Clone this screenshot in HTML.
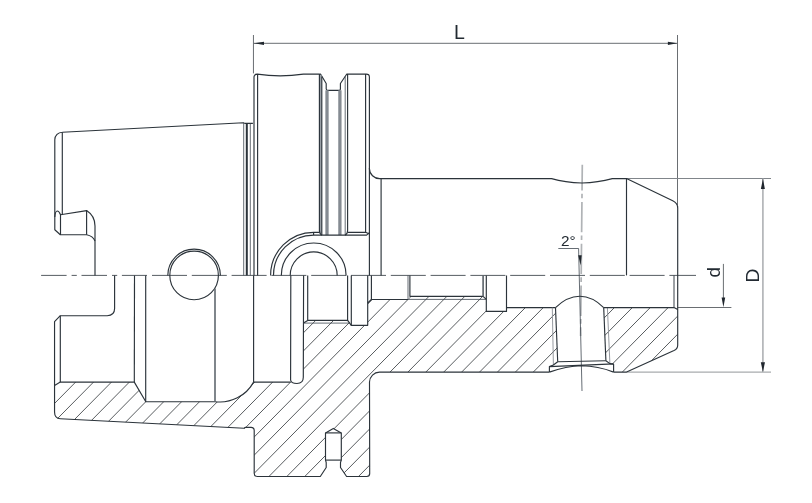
<!DOCTYPE html>
<html lang="en">
<head>
<meta charset="utf-8">
<title>Tool holder drawing</title>
<style>
html,body{margin:0;padding:0;background:#fff;}
body{width:812px;height:503px;overflow:hidden;}
svg{display:block;will-change:transform;}
path{fill:none;}
.m{stroke:#2b333a;stroke-width:1.15;stroke-linejoin:round;stroke-linecap:butt;}
.k{stroke:#2b333a;stroke-width:2;}
.k2{stroke:#60676e;stroke-width:1.6;}
.k3{stroke:#5a6168;stroke-width:1.6;}
.t{stroke:#3f4850;stroke-width:0.8;}
.t3{stroke:#3a424a;stroke-width:1;}
.t2{stroke:#8a8f95;stroke-width:0.9;}
.g{stroke:#858b92;stroke-width:3.3;}
.gl{stroke:#9aa0a6;stroke-width:2;}
.h{stroke:#3a3e42;stroke-width:0.85;}
.c{stroke:#2b333a;stroke-width:0.8;}
.cv{stroke:#b0b3b6;stroke-width:1.7;}
.d{stroke:#6a6e72;stroke-width:1;}
.e{stroke:#80858a;stroke-width:1;}
.e2{stroke:#a8abae;stroke-width:1.2;}
.dl{stroke:#aeb1b4;stroke-width:1.6;}
.a{fill:#20272e;stroke:none;}
text{font-family:"Liberation Sans",sans-serif;fill:#222a32;}
</style>
</head>
<body>
<svg width="812" height="503" viewBox="0 0 812 503">
<defs><clipPath id="hc"><path d="M54.55,385.4 L60.3,382.1 L134.3,382.1 L145.8,401.7 L215.1,401.7 A38.4,38.4 0 0 0 253.6,382.1 L290.6,382.1 Q291,383.5 297,383.5 Q303.3,383.5 303.3,377.3 L303.5,323.1 L307.7,320.4 L347.6,320.4 L351.3,325.3 L367.7,325.3 L367.7,303 L371.4,299.5 L408.2,299.5 L409.9,296.3 L483.1,296.3 L486.3,299.4 L486.3,311.4 L506.5,311.4 L506.5,307.6 L555.5,307.6 L557.7,361.8 L553.4,365 L549.4,366.6 L549.4,372.1 L379.5,372.1 A10.2,10.2 0 0 0 369.5,382.1 L369.7,473.5 Q369.7,476.5 366.7,476.5 L346.6,476.5 L341.3,467.5 L341.3,432.9 L333.3,428.4 L325.5,432.9 L325.5,467.5 L320.3,476.5 L257.3,476.5 Q254.2,476.5 254.2,473.3 L254.2,430.5 Q254.2,427.3 251,427.3 L245.3,427.3 L244.1,428.3 L60.3,418.7 Q54.55,418.4 54.55,412 Z"/></clipPath><clipPath id="hc2"><path d="M603.7,307.6 L674,307.6 L677.7,309.6 L677.7,345.2 Q677.7,348.8 674,350.6 L626.6,372.1 L613.6,372.1 L613.6,364.2 L609.9,363.6 L605.9,360.8 Z"/></clipPath></defs>
<rect width="812" height="503" fill="#ffffff"/>
<g clip-path="url(#hc)"><path class="h" d="M77.07,290L-110.65,480M94.98,290L-92.74,480M112.89,290L-74.83,480M130.80,290L-56.92,480M148.71,290L-39.01,480M166.62,290L-21.10,480M184.53,290L-3.19,480M202.44,290L14.72,480M220.35,290L32.63,480M238.26,290L50.54,480M256.17,290L68.45,480M274.08,290L86.36,480M291.99,290L104.27,480M309.90,290L122.18,480M327.81,290L140.09,480M345.72,290L158.00,480M363.63,290L175.91,480M381.54,290L193.82,480M399.45,290L211.73,480M417.36,290L229.64,480M435.27,290L247.55,480M453.18,290L265.46,480M471.09,290L283.37,480M489.00,290L301.28,480M506.91,290L319.19,480M524.82,290L337.10,480M542.73,290L355.01,480M560.64,290L372.92,480M578.55,290L390.83,480M596.46,290L408.74,480M614.37,290L426.65,480M632.28,290L444.56,480M650.19,290L462.47,480M668.10,290L480.38,480M686.01,290L498.29,480"/></g><g clip-path="url(#hc2)"><path class="h" d="M524.32,290L336.60,480M542.23,290L354.51,480M560.14,290L372.42,480M578.05,290L390.33,480M595.96,290L408.24,480M613.87,290L426.15,480M631.78,290L444.06,480M649.69,290L461.97,480M667.60,290L479.88,480M685.51,290L497.79,480M703.42,290L515.70,480M721.33,290L533.61,480M739.24,290L551.52,480M757.15,290L569.43,480M775.06,290L587.34,480M792.97,290L605.25,480M810.88,290L623.16,480M828.79,290L641.07,480M846.70,290L658.98,480M864.61,290L676.89,480"/></g>
<path class="c" d="M41.1,275.4L147,275.4" stroke-dasharray="25.5,5,5.2,4.7"/><path class="c" d="M152,275.4L696,275.4" stroke-dasharray="35,4.8"/><path class="cv" d="M582.3,164.8L580.6,336" stroke-dasharray="30.4,3.2,4.6,3.6" stroke-dashoffset="4.7"/><path class="t" d="M578.6,248.5L582,391"/>
<path class="d" d="M253.45,35L253.45,73.4"/><path class="d" d="M677.5,35L677.5,205"/><path class="d" d="M253.5,43.3L677.4,43.3"/><path class="a" d="M253.6,43.3L264,41.7L264,44.9Z"/><path class="a" d="M677.3,43.3L667.9,41.7L667.9,44.9Z"/><path class="e" d="M626.5,178.5L771,178.5"/><path class="e2" d="M626.6,372.1L771,372.1"/><path class="dl" d="M762.9,178.5L762.9,371.8"/><path class="a" d="M762.9,178.6L760.9,189L764.9,189Z"/><path class="a" d="M762.9,371.9L760.8,362.2L765,362.2Z"/><path class="d" d="M677.7,307.5L731.4,307.5"/><path class="d" d="M723.4,263.9L723.4,300"/><path class="a" d="M723.4,307.3L721.6,297.6L725.2,297.6Z"/><path class="t" d="M558.3,248.5L578.6,248.5"/><path class="a" d="M580.6,265.5L578.2,255.3L581.7,255.3Z"/>
<path class="m" d="M60.3,234.7 L54.8,229.8 L54.8,139.8 A7.6,7.6 0 0 1 62.3,132.2 L243.3,122.7 Q244.5,123.3 245.5,123.3 L252.9,123.3"/><path class="m" d="M62.3,132.2L62.3,214.6"/><path class="m" d="M54.8,217 Q55.2,211 57.3,211 Q59,211 60.5,214.8 L86.6,210.6 Q95,216 95,226 L95,275.4"/><path class="m" d="M60.5,214.8 L60.5,234.7 L86.6,234.7 Q93,236 95,241"/><path class="m" d="M86.6,210.6L86.6,234.7"/><path class="t" d="M243.7,123L243.7,275.4"/><path class="k" d="M246.8,123.3L246.8,275.4"/><path class="t" d="M250.3,123.3L250.3,275.4"/><path class="m" d="M257.6,74.6L257.6,275.4"/><path class="m" d="M254,275.4 L254,77.2 Q254,74.1 257.3,74.1 Q280,77.6 303.4,74.1 L319.4,74.1"/><path class="m" d="M319.4,74.1 L320.5,74 L326.2,83.5 L326.2,89 Q326.3,90.3 327.6,90.3 L339.3,90.3 Q340.4,90.3 340.4,89 L340.4,83.5 L346.8,74 L347.6,74.1 L366.2,74.1 Q369.4,74.1 369.4,77 L369.4,168.5 A10.2,10.2 0 0 0 379.8,178.6 L551.6,178.6 Q565,182.6 582,183 Q598,182.6 612.3,178.6 L626.5,178.6 L672.75,200.8 Q677.7,203.2 677.7,208 L677.7,345.2 Q677.7,348.8 674,350.6 L626.6,372.1 L613.6,372.1"/><path class="gl" d="M320.6,75L320.6,233"/><path class="m" d="M319.4,74.1 L319.4,230.8 Q319.6,234.4 322,235.1"/><path class="m" d="M321.8,76.5L321.8,235.1"/><path class="g" d="M327,90.3L327,235.1"/><path class="g" d="M339.9,90.3L339.9,235.1"/><path class="t" d="M345.2,76.5L345.2,235.1"/><path class="m" d="M347.6,74.1 L347.6,230.8 Q347.4,234.4 345,235.1"/><path class="m" d="M365.6,74L365.6,232.3"/><path class="m" d="M369.4,168L369.4,275.4"/><path class="m" d="M381.1,178.6L381.1,275.4"/><path class="m" d="M626.5,178.6L626.5,275.4"/><path class="m" d="M290.2,275.4 A23.5,23.5 0 0 1 337.2,275.4"/><path class="m" d="M281.3,275.4 A32.4,32.4 0 0 1 346.09999999999997,275.4"/><path class="m" d="M270.59999999999997,275.4 A43.1,43.1 0 0 1 313.7,232.3 L319.4,232.3"/><path class="m" d="M273.5,275.4 A40.2,40.2 0 0 1 313.7,235.1 L366.6,235.1 L369.4,232.6"/><path class="m" d="M313.6,232.3L313.6,235.1"/><path class="m" d="M347.6,232.3 L365.6,232.3 L369.4,234"/><path class="m" d="M169.79999999999998,275.4 A24.3,24.3 0 0 0 218.4,275.4 A24.3,24.3 0 0 0 169.79999999999998,275.4"/><path class="m" d="M167.79999999999998,275.4 A26.3,26.3 0 0 1 220.4,275.4"/><path class="m" d="M114.6,275.4 L114.6,308.6 Q114.6,315.7 107.2,315.7 L60.3,315.7 L54.55,321.6 L54.55,412 Q54.55,418.4 60.3,418.7 L244.1,428.3 Q244.8,427.3 245.6,427.3 L251,427.3 Q254.2,427.3 254.2,430.5 L254.2,473.3 Q254.2,476.5 257.3,476.5 L320.3,476.5 L326.2,467.5 L326.2,462.5 L325.5,460.1 L325.5,432.9 L333.3,428.4 L341.3,432.9 L341.3,460.1 L340.5,462.5 L340.5,467.5 L346.6,476.5 L366.7,476.5 Q369.7,476.5 369.7,473.5 L369.5,382.1 A10.2,10.2 0 0 1 379.5,372.1 L549.4,372.1"/><path class="m" d="M60.3,315.7 L60.3,382.1 L134.3,382.1 L145.8,401.7 L215.1,401.7 A38.4,38.4 0 0 0 253.6,382.1 L290.6,382.1"/><path class="m" d="M54.55,385.4L60.3,382.1"/><path class="m" d="M134.5,275.4L134.3,382.1"/><path class="m" d="M145.7,275.4L145.7,401.7"/><path class="k2" d="M215,288.4L215,401.7"/><path class="m" d="M253.6,275.4L253.6,382.1"/><path class="m" d="M290.8,275.4 L290.6,380 Q291,383.5 297,383.5 Q303.3,383.5 303.3,377.3 L303.6,275.4"/><path class="m" d="M307.7,275.4 L307.7,320.4 L347.6,320.4 L347.6,275.4"/><path class="t" d="M303.5,323.1 L349.6,323.1"/><path class="m" d="M303.5,323.1L307.7,320.4"/><path class="m" d="M347.6,320.4L351.3,325.3"/><path class="m" d="M351.3,275.4 L351.3,325.3 L367.7,325.3 L367.7,275.4"/><path class="m" d="M371.4,275.4 L371.4,299.5 L408.2,299.5"/><path class="t" d="M408,275.4L408,299.5"/><path class="m" d="M367.7,303L371.4,299.5"/><path class="m" d="M409.9,275.4 L409.9,296.3 L483.1,296.3"/><path class="k3" d="M483.1,275.4L483.1,296.3"/><path class="t" d="M408.2,299.4L485.8,299.4"/><path class="m" d="M483.1,296.3L486.3,299.4"/><path class="m" d="M486.3,275.4 L486.3,311.4 L506.5,311.4 L506.5,275.4"/><path class="m" d="M506.5,307.6L555.5,307.6"/><path class="m" d="M555.5,307.6 Q567,296.3 579.8,296.2 Q592.5,296.3 603.7,307.6"/><path class="m" d="M555.5,307.6L557.7,361.8"/><path class="m" d="M603.7,307.6L605.9,360.8"/><path class="t2" d="M552.3,307.6L553.4,365"/><path class="t2" d="M607.4,307.6L609.9,363.6"/><path class="m" d="M557.7,361.8L605.9,360.8"/><path class="m" d="M557.7,361.8 L553.4,365 L549.4,366.6 L549.4,372.1"/><path class="m" d="M605.9,360.8 L609.9,363.6 L613.6,364.2 L613.6,372.1"/><path class="m" d="M549.4,366.6L613.6,363.9"/><path class="m" d="M549.4,372.1 Q566,366.2 581.7,365.8 Q598,366 613.6,372.1"/><path class="m" d="M603.7,307.6 L674,307.6 L677.7,309.6"/><path class="t3" d="M674,275.4L674,307.6"/><path class="m" d="M325.5,432.9L341.3,432.9"/><path class="m" d="M325.5,460.1L341.3,460.1"/>
<text x="454.1" y="39.35" font-size="19.5">L</text><text x="560.9" y="245.7" font-size="15.3">2°</text><text transform="translate(719.6,277.4) rotate(-90)" font-size="18.9">d</text><text transform="translate(759,282.5) rotate(-90)" font-size="19.2">D</text>
</svg>
</body>
</html>
